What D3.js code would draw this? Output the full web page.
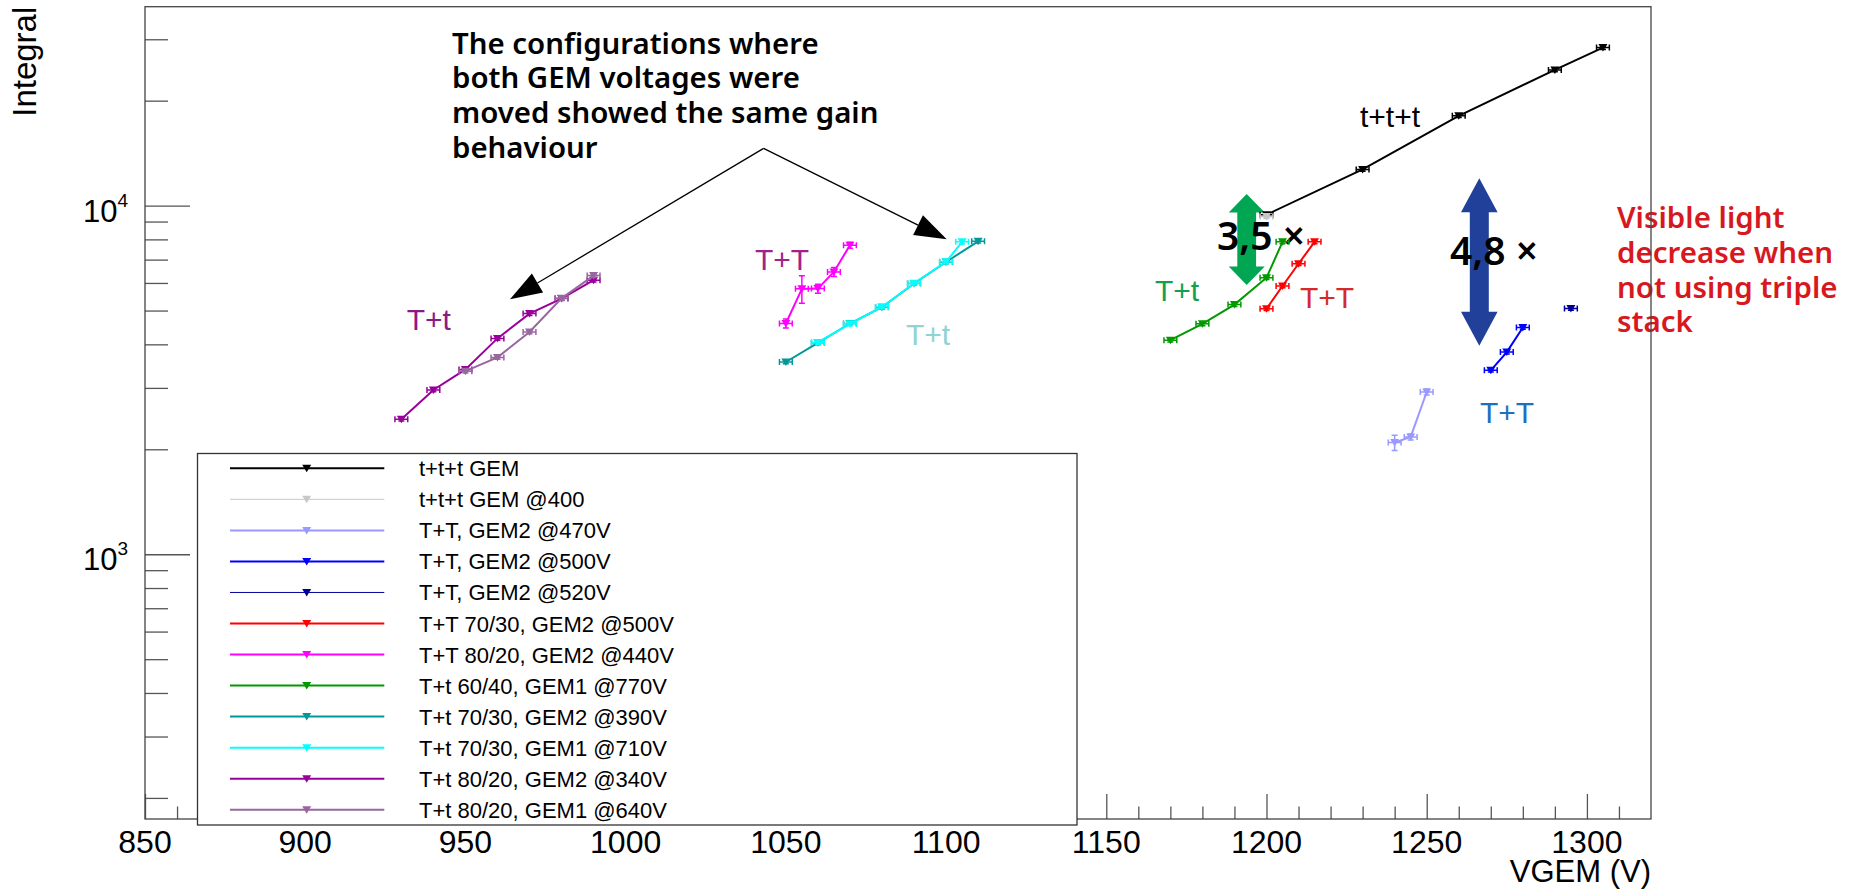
<!DOCTYPE html>
<html>
<head>
<meta charset="utf-8">
<script src="https://d3js.org/d3.v7.min.js"></script>
<style>
  body { margin: 0; background: #fff; }
  svg { display: block; }
</style>
</head>
<body>
<svg id="vis"></svg>
<script>
  var visWidth = 1862
  var visHeight = 894

  // ---- data ----
  var seriesNames = [
    't+t+t GEM', 't+t+t GEM @400', 'T+T, GEM2 @470V', 'T+T, GEM2 @500V', 'T+T, GEM2 @520V',
    'T+T 70/30, GEM2 @500V', 'T+T 80/20, GEM2 @440V', 'T+t 60/40, GEM1 @770V',
    'T+t 70/30, GEM2 @390V', 'T+t 70/30, GEM1 @710V', 'T+t 80/20, GEM2 @340V', 'T+t 80/20, GEM1 @640V'
  ]
  var seriesColors = ['#000000', '#c8c8c8', '#9999ff', '#0000ff', '#000099', '#ff0000',
    '#ff00ff', '#009900', '#009999', '#00ffff', '#990099', '#9966a0']

  var xTtt = [1200, 1230, 1260, 1290, 1305]
  var yTtt = [9420, 12700, 18100, 24500, 28400]
  var xTtt400 = [1200]
  var yTtt400 = [9300]
  var xTT470 = [1240, 1245, 1250]
  var yTT470 = [2090, 2170, 2920]
  var xTT500 = [1270, 1275, 1280]
  var yTT500 = [3370, 3800, 4470]
  var xTT520 = [1295]
  var yTT520 = [5070]
  var xTT7030 = [1200, 1205, 1210, 1215]
  var yTT7030 = [5060, 5880, 6810, 7870]
  var xTT8020 = [1050, 1055, 1060, 1065, 1070]
  var yTT8020 = [4590, 5770, 5780, 6450, 7700]
  var xTt6040 = [1170, 1180, 1190, 1200, 1205]
  var yTt6040 = [4110, 4580, 5200, 6210, 7870]
  var xTt7030g2 = [1050, 1060, 1070, 1080, 1090, 1100, 1110]
  var yTt7030g2 = [3560, 4040, 4590, 5110, 5980, 6890, 7900]
  var xTt7030g1 = [1060, 1070, 1080, 1090, 1100, 1105]
  var yTt7030g1 = [4050, 4580, 5120, 5990, 6900, 7870]
  var xTt8020g2 = [930, 940, 950, 960, 970, 980, 990]
  var yTt8020g2 = [2440, 2960, 3390, 4160, 4900, 5410, 6110]
  var xTt8020g1 = [950, 960, 970, 980, 990]
  var yTt8020g1 = [3350, 3670, 4340, 5420, 6300]

  // relative y errors where they are visibly larger than the default
  var errTT470 = [0.05, 0.02, 0.02]
  var errTT8020 = [0.03, 0.09, 0.03, 0.03, 0.02]
  var defaultErr = 0.012
  var xErr = 2

  var xMajor = [850, 900, 950, 1000, 1050, 1100, 1150, 1200, 1250, 1300]
  var xMinor = d3.range(860, 1320, 10).filter(d => d % 50 != 0)
  var yMajor = [1000, 10000]
  var yMinor = [200, 300, 400, 500, 600, 700, 800, 900, 2000, 3000, 4000, 5000, 6000, 7000, 8000, 9000, 20000, 30000]

  var noteLines = ['The configurations where', 'both GEM voltages were', 'moved showed the same gain', 'behaviour']
  var sideLines = ['Visible light', 'decrease when', 'not using triple', 'stack']

  // ---- layout ----
  var frame = {left: 145, top: 6.7, right: 1651, bottom: 819}
  var labelFont = "'Liberation Sans', Arial, sans-serif"
  var noteFont = "'Noto Sans', sans-serif"

  var svg = d3.select('#vis')
    .attr('width', visWidth)
    .attr('height', visHeight)

  var x = d3.scaleLinear().domain([850, 1320]).range([frame.left, frame.right])
  var y = d3.scaleLog().domain([174, 37200]).range([frame.bottom, frame.top])

  var series = [
    [xTtt, yTtt, null, 2], [xTtt400, yTtt400, null, 1], [xTT470, yTT470, errTT470, 2],
    [xTT500, yTT500, null, 2], [xTT520, yTT520, null, 1], [xTT7030, yTT7030, null, 2],
    [xTT8020, yTT8020, errTT8020, 2], [xTt6040, yTt6040, null, 2], [xTt7030g2, yTt7030g2, null, 2],
    [xTt7030g1, yTt7030g1, null, 2], [xTt8020g2, yTt8020g2, null, 2], [xTt8020g1, yTt8020g1, null, 2]
  ].map((s, i) => ({
    name: seriesNames[i],
    color: seriesColors[i],
    lw: s[3],
    points: s[0].map((v, j) => ({x: v, y: s[1][j], e: s[2] ? s[2][j] : defaultErr}))
  }))

  var triangle = 'M-4.5,-3.5L4.5,-3.5L0,4Z'

  // ---- annotations under the data ----
  var notes = svg.append('g')
  notes.selectAll('text.note')
    .data(noteLines)
    .enter().append('text')
    .attr('x', 452)
    .attr('y', (d, i) => 53.5 + i * 34.8)
    .style('font-family', noteFont)
    .style('font-weight', 600)
    .style('font-size', '29.4px')
    .attr('fill', '#000')
    .text(d => d)

  notes.selectAll('text.side')
    .data(sideLines)
    .enter().append('text')
    .attr('x', 1617)
    .attr('y', (d, i) => 228 + i * 34.8)
    .style('font-family', noteFont)
    .style('font-weight', 600)
    .style('font-size', '29.5px')
    .attr('fill', '#d7191f')
    .text(d => d)

  // arrows from the note
  var apex = [763.6, 148.4]
  var tips = [[510, 299.3], [946.7, 239.3]]
  tips.forEach(function(t) {
    var dx = t[0] - apex[0], dy = t[1] - apex[1]
    var len = Math.sqrt(dx * dx + dy * dy)
    var ux = dx / len, uy = dy / len
    var hl = 32, hw = 11
    var bx = t[0] - ux * hl, by = t[1] - uy * hl
    notes.append('line')
      .attr('x1', apex[0]).attr('y1', apex[1])
      .attr('x2', bx).attr('y2', by)
      .attr('stroke', 'black')
      .attr('stroke-width', 1.3)
    notes.append('polygon')
      .attr('points', [[t[0], t[1]], [bx - uy * hw, by + ux * hw], [bx + uy * hw, by - ux * hw]])
      .attr('fill', 'black')
  })

  // double arrows
  function doubleArrow(cx, top, bottom, headLen, headHalf, shaftHalf, color) {
    var pts = [
      [cx, top], [cx + headHalf, top + headLen], [cx + shaftHalf, top + headLen],
      [cx + shaftHalf, bottom - headLen], [cx + headHalf, bottom - headLen], [cx, bottom],
      [cx - headHalf, bottom - headLen], [cx - shaftHalf, bottom - headLen],
      [cx - shaftHalf, top + headLen], [cx - headHalf, top + headLen]
    ]
    notes.append('polygon')
      .attr('points', pts)
      .attr('fill', color)
  }
  doubleArrow(1246.7, 194, 285, 18.5, 18, 9.4, '#00a651')
  doubleArrow(1479.3, 178.3, 345.7, 34, 18.3, 9.5, '#21409a')

  var bigLabels = [['3,5 \u00d7', 1217, 250], ['4,8 \u00d7', 1450, 265]]
  notes.selectAll('text.big')
    .data(bigLabels)
    .enter().append('text')
    .attr('x', d => d[1])
    .attr('y', d => d[2])
    .style('font-family', noteFont)
    .style('font-weight', 600)
    .style('font-size', '39px')
    .attr('fill', '#000')
    .text(d => d[0])

  var curveLabels = [
    ['t+t+t', 1360, 126.7, '#000000'], ['T+t', 1155, 300.7, '#12a04f'], ['T+T', 1300, 308.3, '#d42a2a'],
    ['T+T', 755, 270, '#a0228c'], ['T+t', 906, 345, '#8fd3d3'], ['T+t', 406.7, 330, '#8b1a89'],
    ['T+T', 1480, 423.3, '#1e6fc0']
  ]
  notes.selectAll('text.curve')
    .data(curveLabels)
    .enter().append('text')
    .attr('x', d => d[1])
    .attr('y', d => d[2])
    .style('font-family', labelFont)
    .style('font-size', '30px')
    .attr('fill', d => d[3])
    .text(d => d[0])

  // ---- series ----
  var line = d3.line().x(d => x(d.x)).y(d => y(d.y))

  var groups = svg.selectAll('g.series')
    .data(series)
    .enter().append('g')
    .attr('class', 'series')

  groups.append('path')
    .attr('d', d => line(d.points))
    .attr('fill', 'none')
    .attr('stroke', d => d.color)
    .attr('stroke-width', d => d.lw)

  groups.each(function(s) {
    var g = d3.select(this)
    s.points.forEach(function(p) {
      var px = x(p.x), py = y(p.y)
      var x0 = x(p.x - xErr), x1 = x(p.x + xErr)
      var y0 = y(p.y * (1 + p.e)), y1 = y(p.y * (1 - p.e))
      var path = 'M' + x0 + ',' + py + 'H' + x1 +
        'M' + x0 + ',' + (py - 3) + 'V' + (py + 3) +
        'M' + x1 + ',' + (py - 3) + 'V' + (py + 3) +
        'M' + px + ',' + y0 + 'V' + y1 +
        'M' + (px - 3) + ',' + y0 + 'H' + (px + 3) +
        'M' + (px - 3) + ',' + y1 + 'H' + (px + 3)
      g.append('path')
        .attr('d', path)
        .attr('fill', 'none')
        .attr('stroke', s.color)
        .attr('stroke-width', 1.5)
      g.append('path')
        .attr('d', triangle)
        .attr('transform', 'translate(' + px + ',' + py + ')')
        .attr('fill', s.color)
    })
  })

  // ---- axes ----
  var tickColor = '#555'
  var xMajorAxis = d3.axisBottom(x).tickValues(xMajor).tickSize(-25).tickFormat('')
  var xMinorAxis = d3.axisBottom(x).tickValues(xMinor).tickSize(-12.5).tickFormat('')
  var yMajorAxis = d3.axisLeft(y).tickValues(yMajor).tickSize(-45).tickFormat('')
  var yMinorAxis = d3.axisLeft(y).tickValues(yMinor).tickSize(-23).tickFormat('')

  ;[[xMajorAxis, 'translate(0,' + frame.bottom + ')'], [xMinorAxis, 'translate(0,' + frame.bottom + ')'],
    [yMajorAxis, 'translate(' + frame.left + ',0)'], [yMinorAxis, 'translate(' + frame.left + ',0)']]
    .forEach(function(a) {
      var g = svg.append('g').attr('transform', a[1]).call(a[0])
      g.select('.domain').remove()
      g.selectAll('line').attr('stroke', tickColor).attr('stroke-width', 1.3)
    })

  svg.selectAll('text.xlab')
    .data(xMajor)
    .enter().append('text')
    .attr('x', d => x(d))
    .attr('y', 853)
    .attr('text-anchor', 'middle')
    .style('font-family', labelFont)
    .style('font-size', '32px')
    .text(d => d)

  var ylab = svg.selectAll('text.ylab')
    .data(yMajor)
    .enter().append('text')
    .attr('x', 128)
    .attr('y', d => y(d) + 16)
    .attr('text-anchor', 'end')
    .style('font-family', labelFont)
    .style('font-size', '31px')
  ylab.append('tspan').text('10')
  ylab.append('tspan')
    .attr('dy', -15)
    .style('font-size', '19px')
    .text(d => Math.round(Math.log10(d)))

  svg.append('text')
    .attr('transform', 'translate(36,' + frame.top + ') rotate(-90)')
    .attr('text-anchor', 'end')
    .style('font-family', labelFont)
    .style('font-size', '33px')
    .text('Integral')

  svg.append('text')
    .attr('x', frame.right)
    .attr('y', 882)
    .attr('text-anchor', 'end')
    .style('font-family', labelFont)
    .style('font-size', '31px')
    .text('VGEM (V)')

  // frame
  svg.append('rect')
    .attr('x', frame.left)
    .attr('y', frame.top)
    .attr('width', frame.right - frame.left)
    .attr('height', frame.bottom - frame.top)
    .attr('fill', 'none')
    .attr('stroke', '#444')
    .attr('stroke-width', 1.3)

  // ---- legend ----
  var legend = svg.append('g')
  legend.append('rect')
    .attr('x', 197.5)
    .attr('y', 453.5)
    .attr('width', 1077 - 197.5)
    .attr('height', 825 - 453.5)
    .attr('fill', 'white')
    .attr('stroke', '#333')
    .attr('stroke-width', 1.3)

  var rows = legend.selectAll('g.row')
    .data(series)
    .enter().append('g')
    .attr('transform', (d, i) => 'translate(0,' + (468.3 + i * 31.04) + ')')

  rows.append('line')
    .attr('x1', 230).attr('x2', 384.3)
    .attr('stroke', d => d.color)
    .attr('stroke-width', d => d.lw)
  rows.append('path')
    .attr('d', triangle)
    .attr('transform', 'translate(306.7,0)')
    .attr('fill', d => d.color)
  rows.append('text')
    .attr('x', 419)
    .attr('y', 8)
    .style('font-family', labelFont)
    .style('font-size', '22px')
    .text(d => d.name)
</script>
</body>
</html>
